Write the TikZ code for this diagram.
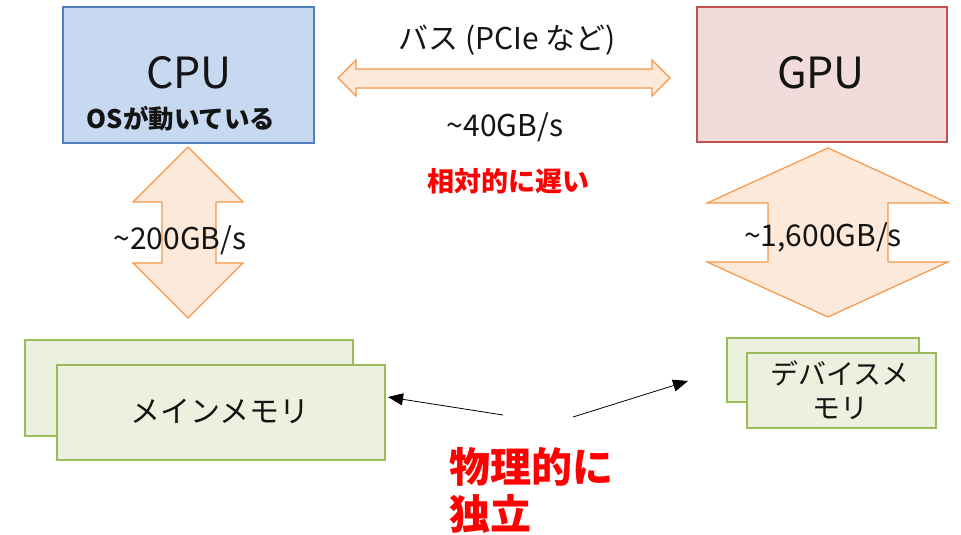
\documentclass[tikz,border=0pt]{standalone}
\usepackage{fontspec}
\setmainfont{Noto Sans CJK JP}
\usetikzlibrary{arrows.meta}
\definecolor{cpufill}{RGB}{198,217,240}
\definecolor{cpuline}{RGB}{79,129,189}
\definecolor{gpufill}{RGB}{242,220,219}
\definecolor{gpuline}{RGB}{192,80,77}
\definecolor{memfill}{RGB}{235,241,222}
\definecolor{memline}{RGB}{155,187,89}
\definecolor{arrfill}{RGB}{253,233,217}
\definecolor{arrline}{RGB}{247,150,70}
\definecolor{txt}{RGB}{20,20,20}
\begin{document}
\begin{tikzpicture}[x=1pt,y=-1pt,
  box/.style={draw, line width=1.3pt, inner sep=0pt},
  cpubox/.style={box, fill=cpufill, draw=cpuline},
  gpubox/.style={box, fill=gpufill, draw=gpuline},
  membox/.style={box, fill=memfill, draw=memline},
  fat/.style={fill=arrfill, draw=arrline, line width=1.2pt, line join=miter},
  lbl/.style={inner sep=0pt, text=txt, font=\fontsize{30}{34}\selectfont},
  big/.style={inner sep=0pt, text=txt, font=\fontsize{43}{48}\selectfont},
  redb/.style={inner sep=0pt, text=red, font=\bfseries\fontsize{27}{30}\selectfont},
  thin/.style={-{Triangle[length=15pt,width=12pt]}, line width=0.8pt, draw=black}
]
\useasboundingbox (0,0) rectangle (961,535);

% CPU and GPU
\node[cpubox, minimum width=251pt, minimum height=136pt] (cpu) at (188.5,75) {};
\node[big] (cputxt) at (189,73) {CPU};
\node[inner sep=0pt, text=txt, font=\bfseries\fontsize{25.5}{30}\selectfont] (os) at (181,119) {OSが動いている};

\node[gpubox, minimum width=250pt, minimum height=135pt] (gpu) at (822,74.5) {};
\node[big] (gputxt) at (821,73) {GPU};

% bus arrow
\draw[fat] (338,78) -- (356,60) -- (356,69) -- (652,69) -- (652,60) -- (670,78)
  -- (652,96) -- (652,88) -- (356,88) -- (356,96) -- cycle;
\node[lbl] (bus) at (507,40) {バス (PCIe など)};
\node[lbl] (bw40) at (505,127) {\textasciitilde40GB/s};
\node[redb] (slow) at (508,181) {相対的に遅い};

% CPU-memory arrow
\draw[fat] (188,147) -- (243,202) -- (216,202) -- (216,263) -- (243,263) -- (188,318)
  -- (133,263) -- (162,263) -- (162,202) -- (133,202) -- cycle;
\node[lbl] (bw200) at (180,240) {\textasciitilde200GB/s};

% GPU-memory arrow
\draw[fat] (828,148) -- (948,203) -- (888,203) -- (888,262) -- (948,262) -- (828,317)
  -- (707,262) -- (768,262) -- (768,203) -- (707,203) -- cycle;
\node[lbl] (bw1600) at (823,237) {\textasciitilde1,600GB/s};

% main memory
\node[membox, minimum width=328pt, minimum height=96pt] (mainback) at (189,388) {};
\node[membox, minimum width=328pt, minimum height=95pt] (mainfront) at (221,412.5) {};
\node[lbl, font=\fontsize{30}{34}\selectfont] (maintxt) at (220,411) {メインメモリ};

% device memory
\node[membox, minimum width=192pt, minimum height=64pt] (devback) at (823,370) {};
\node[membox, minimum width=189pt, minimum height=75pt] (devfront) at (841.5,390.5) {};
\node[lbl, font=\fontsize{28}{34}\selectfont, align=center] (devtxt) at (840,390) {デバイスメ\\モリ};

% physically independent
\node[inner sep=0pt, text=red, font=\bfseries\fontsize{41}{47}\selectfont, align=left, anchor=north west] (indep) at (449,447) {物理的に\\独立};

\coordinate (la) at (503,415);
\coordinate (lb) at (388,397);
\coordinate (ra) at (573,417);
\coordinate (rb) at (688,381);
\draw[thin] (la) -- (lb);
\draw[thin] (ra) -- (rb);
\end{tikzpicture}
\end{document}
